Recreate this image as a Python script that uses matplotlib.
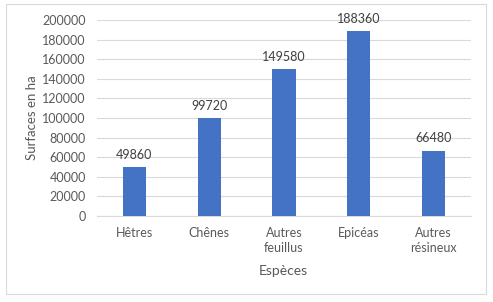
import matplotlib
matplotlib.use("Agg")
import matplotlib.pyplot as plt
from matplotlib.patches import Rectangle

categories = ["Hêtres", "Chênes", "Autres\nfeuillus", "Epicéas", "Autres\nrésineux"]
values = [49860, 99720, 149580, 188360, 66480]
yticks = [0, 20000, 40000, 60000, 80000, 100000, 120000, 140000, 160000, 180000, 200000]

plt.rcParams['font.family'] = ['Lato', 'DejaVu Sans']
txt = '#595959'

fig = plt.figure(figsize=(4.93, 3.02), dpi=100)
W, H = 493, 302
ax = fig.add_axes([97 / W, 1 - 216 / H, (471 - 97) / W, (216 - 20) / H])

x = range(len(categories))
ax.bar(x, values, width=0.31, color='#4472C4', zorder=3)
for xi, v in zip(x, values):
    ax.text(xi, v + 6500, str(v), ha='center', va='bottom', fontsize=9, color='#404040')

ax.set_xlim(-0.5, len(categories) - 0.5)
ax.set_ylim(0, 200000)
ax.set_yticks(yticks)
ax.set_yticklabels([str(t) for t in yticks])
ax.set_xticks(list(x))
ax.set_xticklabels(categories, linespacing=1.3)
ax.tick_params(axis='both', length=0, labelsize=9, colors=txt)
ax.tick_params(axis='x', pad=8)
ax.tick_params(axis='y', pad=8)
ax.grid(axis='y', color='#D9D9D9', linewidth=0.8, zorder=0)
for s in ['top', 'right', 'left']:
    ax.spines[s].set_visible(False)
ax.spines['bottom'].set_color('#D9D9D9')
ax.spines['bottom'].set_linewidth(0.8)

fig.text(32 / W, 1 - 118 / H, "Surfaces en ha", ha='center', va='center', rotation=90,
         fontsize=9.5, color=txt)
fig.text(283 / W, 1 - 271 / H, "Espèces", ha='center', va='center', fontsize=10, color=txt)

fig.patches.append(Rectangle((6 / W, 1 - 294 / H), (486 - 6) / W, (294 - 4) / H,
                             transform=fig.transFigure, fill=False, edgecolor='#D9D9D9', linewidth=0.8))

fig.savefig("out.png", dpi=100)
